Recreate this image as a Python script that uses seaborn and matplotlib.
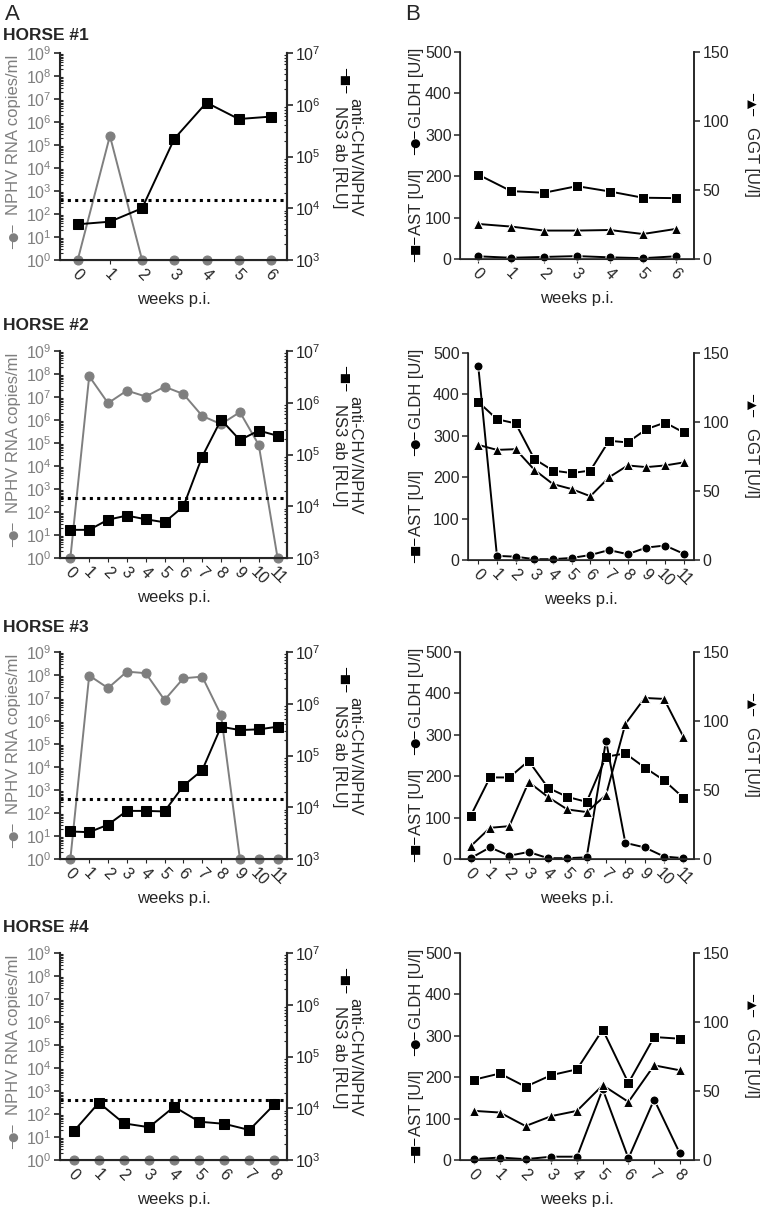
import numpy as np
import matplotlib
matplotlib.use('Agg')
import matplotlib.pyplot as plt
import seaborn as sns
from matplotlib.ticker import LogLocator, NullFormatter

sns.set_style('ticks')
plt.rcParams['font.family'] = ['Liberation Sans', 'DejaVu Sans']
plt.rcParams['mathtext.default'] = 'regular'

GRAY = '#7f7f7f'

# panel A: NPHV RNA (left, log) and anti-NS3 antibody (right, log)
weeks_1 = [0, 1, 2, 3, 4, 5, 6]
weeks_2 = [0, 1, 2, 3, 4, 5, 6, 7, 8, 9, 10, 11]
weeks_3 = [0, 1, 2, 3, 4, 5, 6, 7, 8, 9, 10, 11]
weeks_4 = [0, 1, 2, 3, 4, 5, 6, 7, 8]

rna_1 = [1, 2.5e5, 1, 1, 1, 1, 1]
rna_2 = [1, 8e7, 5.4e6, 1.9e7, 1.05e7, 2.8e7, 1.35e7, 1.5e6, 6.6e5, 2.2e6, 8.3e4, 1]
rna_3 = [1, 9.5e7, 2.7e7, 1.4e8, 1.2e8, 8.2e6, 7.2e7, 8.5e7, 1.8e6, 1, 1, 1]
rna_4 = [1, 1, 1, 1, 1, 1, 1, 1, 1]

ab_1 = [4.9e3, 5.5e3, 1.0e4, 2.2e5, 1.1e6, 5.3e5, 5.9e5]
ab_2 = [3.5e3, 3.5e3, 5.5e3, 6.6e3, 5.6e3, 4.9e3, 9.9e3, 9.1e4, 4.7e5, 1.9e5, 2.9e5, 2.3e5]
ab_3 = [3.4e3, 3.3e3, 4.6e3, 8.5e3, 8.5e3, 8.3e3, 2.6e4, 5.2e4, 3.6e5, 3.1e5, 3.2e5, 3.6e5]
ab_4 = [3.6e3, 1.28e4, 5.1e3, 4.3e3, 1.07e4, 5.5e3, 5.0e3, 3.8e3, 1.19e4]

ab_cutoff = 1.43e4

# panel B: liver enzymes
ast_1 = [204, 164, 160, 176, 163, 148, 147]
ast_2 = [382, 340, 330, 244, 216, 210, 216, 288, 284, 316, 332, 308]
ast_3 = [104, 197, 197, 237, 172, 150, 138, 247, 255, 221, 190, 148]
ast_4 = [194, 209, 177, 205, 219, 315, 186, 297, 293]

gldh_1 = [6.5, 3, 5, 7, 4, 2, 6.5]
gldh_2 = [468, 10, 8, 2, 2, 5, 12, 24, 14, 30, 35, 15]
gldh_3 = [2, 28, 8, 17, 2, 2, 4, 286, 39, 28, 6, 2]
gldh_4 = [2, 6, 2, 8, 8, 171, 4, 146, 16]

ggt_1 = [25.4, 23.5, 20.6, 20.6, 21, 18.1, 21.8]
ggt_2 = [83.4, 79.8, 80.3, 65.4, 55, 51.4, 46.2, 59.9, 68.5, 67.3, 68.5, 70.7]
ggt_3 = [9.2, 22.6, 23.8, 55.8, 44.9, 35.9, 34, 46.4, 97.8, 116.7, 116, 88.6]
ggt_4 = [35.6, 34.4, 24.6, 31.8, 35.6, 54.2, 42.1, 68.6, 65]

horses = ['HORSE #1', 'HORSE #2', 'HORSE #3', 'HORSE #4']
weeks = [weeks_1, weeks_2, weeks_3, weeks_4]
rna = [rna_1, rna_2, rna_3, rna_4]
ab = [ab_1, ab_2, ab_3, ab_4]
ast = [ast_1, ast_2, ast_3, ast_4]
gldh = [gldh_1, gldh_2, gldh_3, gldh_4]
ggt = [ggt_1, ggt_2, ggt_3, ggt_4]

W, H = 762, 1208
fig = plt.figure(figsize=(W / 100, H / 100), dpi=100)


def px_axes(left, top, width, height):
    return fig.add_axes([left / W, 1 - (top + height) / H, width / W, height / H])


def px_text(x, y, s, **kw):
    return fig.text(x / W, 1 - y / H, s, **kw)


def glyph(x, y, s, rot, color='black'):
    # little line+marker key drawn next to an axis title
    px_text(x, y, s, rotation=rot, ha='center', va='center', fontsize=8.5,
            color=color, family=['DejaVu Sans'])


left_tops = [53, 351, 652, 953]
right_tops = [52, 353, 652, 953]
right_lefts = [460, 468, 460, 460]
title_y = [35, 326, 627, 927]

fs = 11.5
lfs = 12

for i in range(4):
    wk = weeks[i]
    n = wk[-1]
    t = left_tops[i]

    # ---- A: RNA + antibody
    ax = px_axes(60, t, 227, 207)
    ax.set_yscale('log')
    sns.lineplot(x=wk, y=rna[i], marker='o', color=GRAY, markersize=6.5,
                 markeredgecolor=GRAY, linewidth=1.4, ax=ax, clip_on=False)
    ax.set_ylim(1, 1e9)
    ax.set_xlim(-0.55, n + 0.5)
    ax.set_yticks([10.0 ** k for k in range(10)])
    ax.yaxis.set_minor_locator(LogLocator(base=10, subs=np.arange(2, 10), numticks=20))
    ax.yaxis.set_minor_formatter(NullFormatter())
    ax.tick_params(axis='y', which='major', labelcolor=GRAY, labelsize=fs, length=4,
                   width=1.2, pad=2)
    ax.tick_params(axis='y', which='minor', direction='in', length=2.5, width=0.8)
    ax.set_xticks(wk)
    ax.set_xticklabels(wk, rotation=-45, fontsize=fs)
    ax.tick_params(axis='x', length=3, pad=2)
    ax.set_xlabel('weeks p.i.', fontsize=lfs)
    ax.xaxis.set_label_coords(0.5, -0.155)
    ax.set_ylabel('')
    for s in ['left', 'bottom', 'right']:
        ax.spines[s].set_linewidth(1.5)
    ax.spines['top'].set_visible(False)

    px_text(14, t + 82, 'NPHV RNA copies/ml', rotation=90, ha='center', va='center',
            fontsize=lfs, color=GRAY)
    glyph(14, t + 184, '\u2500\u25cf\u2500', 90, GRAY)

    ax2 = ax.twinx()
    ax2.set_yscale('log')
    ax2.axhline(ab_cutoff, color='black', linestyle=(0, (1, 1.4)), linewidth=2.2)
    sns.lineplot(x=wk, y=ab[i], marker='s', color='black', markersize=6.5,
                 markeredgecolor='black', linewidth=1.4, ax=ax2, clip_on=False)
    ax2.set_ylim(1e3, 1e7)
    ax2.set_yticks([1e3, 1e4, 1e5, 1e6, 1e7])
    ax2.yaxis.set_minor_locator(LogLocator(base=10, subs=np.arange(2, 10), numticks=20))
    ax2.yaxis.set_minor_formatter(NullFormatter())
    ax2.tick_params(axis='y', which='major', labelsize=fs, length=4, width=1.2, pad=2)
    ax2.tick_params(axis='y', which='minor', direction='in', length=2.5, width=0.8)
    ax2.spines['top'].set_visible(False)
    ax2.spines['right'].set_linewidth(1.5)
    ax2.set_ylabel('')

    px_text(347, t + 104, 'anti-CHV/NPHV\nNS3 ab [RLU]', rotation=270, ha='center',
            va='center', multialignment='center', fontsize=lfs, linespacing=1.05)
    glyph(345, t + 27, '\u2500\u25a0\u2500', 270)

    px_text(3, title_y[i], horses[i], fontsize=12.5, fontweight='bold',
            ha='left', va='center')

    # ---- B: liver enzymes
    rt = right_tops[i]
    bx = px_axes(right_lefts[i], rt, 694 - right_lefts[i], 207)
    sns.lineplot(x=wk, y=ast[i], marker='s', color='black', markersize=6.5,
                 linewidth=1.4, ax=bx, clip_on=False)
    sns.lineplot(x=wk, y=gldh[i], marker='o', color='black', markersize=6.5,
                 linewidth=1.4, ax=bx, clip_on=False)
    bx.set_ylim(0, 500)
    bx.set_xlim(-0.55, n + 0.55)
    bx.set_yticks([0, 100, 200, 300, 400, 500])
    bx.tick_params(axis='y', labelsize=fs, length=4, width=1.1, pad=2)
    bx.set_xticks(wk)
    bx.set_xticklabels(wk, rotation=-45, fontsize=fs)
    bx.tick_params(axis='x', length=3, pad=2)
    bx.set_xlabel('weeks p.i.', fontsize=lfs)
    bx.xaxis.set_label_coords(0.5, -0.155)
    bx.set_ylabel('')
    bx.spines['top'].set_visible(False)
    for s in ['left', 'bottom', 'right']:
        bx.spines[s].set_linewidth(1.2)

    glyph(416, rt + 197, '\u2500\u25a0\u2500', 90)
    px_text(416, rt + 150, 'AST [U/l]', rotation=90, ha='center', va='center', fontsize=lfs)
    glyph(416, rt + 91, '\u2500\u25cf\u2500', 90)
    px_text(416, rt + 36, 'GLDH [U/l]', rotation=90, ha='center', va='center', fontsize=lfs)

    bx2 = bx.twinx()
    sns.lineplot(x=wk, y=ggt[i], marker='^', color='black', markersize=7,
                 linewidth=1.4, ax=bx2, clip_on=False)
    bx2.set_ylim(0, 150)
    bx2.set_yticks([0, 50, 100, 150])
    bx2.tick_params(axis='y', labelsize=fs, length=4, width=1.1, pad=2)
    bx2.spines['top'].set_visible(False)
    bx2.spines['right'].set_linewidth(1.2)
    bx2.set_ylabel('')

    glyph(751, rt + 52, '\u2500\u25b2\u2500', 270)
    px_text(751, rt + 110, 'GGT [U/l]', rotation=270, ha='center', va='center', fontsize=lfs)

px_text(5, 15, 'A', fontsize=16, ha='left', va='center')
px_text(405, 15, 'B', fontsize=16, ha='left', va='center')

fig.savefig('out.png', dpi=100)
